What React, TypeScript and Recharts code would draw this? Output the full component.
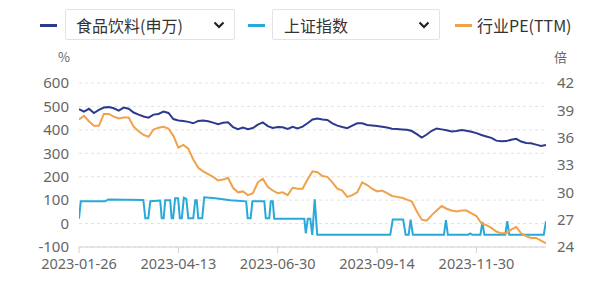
import { LineChart, Line, XAxis, YAxis, CartesianGrid } from 'recharts';

// trading-day index (every 2nd day) for the index and PE series
const days = [
  0, 2, 4, 6, 8, 10, 12, 14, 16, 18, 20, 22, 24, 26, 28, 30, 32, 34, 36, 38,
  40, 42, 44, 46, 48, 50, 52, 54, 56, 58, 60, 62, 64, 66, 68, 70, 72, 74, 76, 78,
  80, 82, 84, 86, 88, 90, 92, 94, 96, 98, 100, 102, 104, 106, 108, 110, 112, 114, 116, 118,
  120, 122, 124, 126, 128, 130, 132, 134, 136, 138, 140, 142, 144, 146, 148, 150, 152, 154, 156, 158,
  160, 162, 164, 166, 168, 170, 172, 174, 176, 178, 180, 182, 184, 186, 188,
];

const foodIndex = [
  488, 478, 490, 472, 485, 495, 497, 492, 482, 495, 490, 474, 465, 457, 452, 465, 468, 478, 472, 446,
  440, 438, 434, 428, 438, 440, 437, 431, 424, 430, 432, 412, 403, 410, 403, 408, 422, 432, 416, 408,
  412, 411, 404, 413, 406, 414, 428, 444, 448, 444, 442, 428, 418, 412, 407, 418, 428, 428, 421, 419,
  416, 413, 410, 405, 404, 402, 400, 395, 382, 367, 380, 396, 406, 402, 398, 393, 395, 399, 396, 392,
  386, 378, 372, 366, 354, 351, 352, 358, 362, 350, 344, 343, 337, 331, 336,
];

const industryPE = [
  38.0, 38.4, 37.8, 37.3, 37.3, 38.6, 38.6, 38.3, 38.1, 38.2, 38.2, 37.2, 36.7, 36.3, 36.1, 36.9, 37.1, 37.2, 37.0, 36.2,
  34.9, 35.2, 34.8, 33.6, 32.7, 32.3, 32.0, 31.7, 31.3, 31.4, 31.6, 30.5, 30.0, 30.1, 29.7, 29.9, 31.1, 31.5, 30.6, 30.2,
  29.9, 30.0, 29.7, 30.5, 30.4, 30.4, 31.4, 32.3, 32.2, 31.8, 31.7, 31.1, 30.4, 30.2, 29.5, 29.7, 30.0, 31.1, 30.8, 30.4,
  30.1, 30.2, 29.9, 29.6, 29.5, 29.4, 29.2, 29.0, 27.9, 27.0, 26.9, 27.5, 28.0, 28.5, 28.2, 28.0, 27.9, 28.0, 28.0, 27.7,
  27.4, 26.6, 26.4, 26.1, 25.7, 25.5, 25.5, 25.9, 26.2, 25.5, 25.2, 25.0, 25.0, 24.7, 24.4,
];

// 上证指数 series, read at its break points
const shDays = [
  0, 0.7, 10.5, 11.8, 25.9, 26.7, 27.9, 28.7, 32.7, 33.3, 34.1, 34.7, 36.7, 37.3, 37.9, 38.7,
  39.9, 40.6, 41.4, 42.2, 43.2, 44, 46, 46.8, 47.4, 48, 49.6, 50.4, 54.9, 60.9, 67.3, 67.9,
  69.1, 69.8, 74.6, 75.2, 76.6, 77.2, 78, 78.6, 90.7, 91.3, 92.1, 93.1, 93.9, 94.9, 95.9, 125.3,
  126.3, 130.5, 131.5, 132.7, 133.5, 134.4, 146.9, 147.7, 148.5, 156.7, 157.5, 158.3, 161.6, 162.4,
  163.2, 171.6, 172.4, 173.2, 187.1, 188,
];
const shValues = [
  21, 95, 95, 103, 101, 23, 23, 95, 98, 23, 23, 100, 100, 23, 23, 108,
  108, 23, 23, 110, 105, 23, 23, 100, 100, 23, 23, 112, 108, 100, 95, 23,
  23, 95, 95, 23, 23, 95, 95, 21, 21, -42, 21, 21, -48, 103, -48, -48,
  17, 17, -48, -48, 17, -48, -48, 15, -48, -48, -42, -48, -48, 7,
  -48, -48, 10, -48, -48, 10,
];

const tickDays = [0, 40, 80, 120, 160];
const tickLabels = ['2023-01-26', '2023-04-13', '2023-06-30', '2023-09-14', '2023-11-30'];
const leftTicks = [-100, 0, 100, 200, 300, 400, 500, 600];
const rightTicks = [24, 27, 30, 33, 36, 39, 42];

const NAVY = '#2c3a8e';
const CYAN = '#2aa9d9';
const ORANGE = '#f0a24a';

const rows = days.map((d, i) => ({ d, food: foodIndex[i], pe: industryPE[i] }));
const shRows = shDays.map((d, i) => ({ d, sh: shValues[i] }));

const tickStyle = { fill: '#666', fontSize: 15, fontFamily: 'Noto Sans, sans-serif' };
const xTickStyle = { ...tickStyle, fontSize: 14.5 };

function LegendBar() {
  const font = { fontFamily: '"Noto Sans CJK SC", sans-serif', fontSize: 16, color: '#333' };
  const box = {
    position: 'absolute' as const,
    top: 9,
    height: 31,
    border: '1px solid #e3e3e3',
    borderRadius: 2,
    background: '#fff',
    boxSizing: 'border-box' as const,
    display: 'flex',
    alignItems: 'center',
    ...font,
  };
  const swatch = (left: number, color: string) => (
    <div style={{ position: 'absolute', left, top: 24, width: 17, height: 3, background: color }} />
  );
  const chevron = (
    <svg width="12" height="8" viewBox="0 0 12 8" style={{ position: 'absolute', right: 9, top: 11 }}>
      <path d="M1.5 1.5 L6 6 L10.5 1.5" fill="none" stroke="#222" strokeWidth="2.2" />
    </svg>
  );
  const unit = { ...font, fontSize: 13, color: '#666', lineHeight: '16px' };
  return (
    <>
      {swatch(40, NAVY)}
      <div style={{ ...box, left: 65, width: 170, paddingLeft: 10 }}>
        食品饮料(申万)
        {chevron}
      </div>
      {swatch(248, CYAN)}
      <div style={{ ...box, left: 272, width: 168, paddingLeft: 11 }}>
        上证指数
        {chevron}
      </div>
      {swatch(455, ORANGE)}
      <div style={{ position: 'absolute', left: 477, top: 13, ...font, lineHeight: '24px' }}>行业PE(TTM)</div>
      <div style={{ position: 'absolute', left: 58, top: 49, ...unit }}>%</div>
      <div style={{ position: 'absolute', left: 554, top: 49, ...unit }}>倍</div>
    </>
  );
}

export default function App() {
  return (
    <div style={{ position: 'absolute', left: 0, top: 0, width: 600, height: 291, background: '#fff' }}>
      <LineChart
        width={600}
        height={291}
        data={rows}
        margin={{ top: 83, right: 0, bottom: 14, left: 0 }}
      >
        <CartesianGrid yAxisId="left" vertical={false} stroke="#e2e2e2" strokeDasharray="3 3" />
        <XAxis
          dataKey="d"
          type="number"
          domain={[0, 188]}
          ticks={tickDays}
          tickFormatter={(v: number) => tickLabels[tickDays.indexOf(v)] ?? ''}
          stroke="#d0d0d0"
          tickSize={6}
          tickMargin={6}
          height={30}
          tick={xTickStyle}
          interval={0}
          allowDataOverflow
        />
        <YAxis
          yAxisId="left"
          domain={[-100, 600]}
          ticks={leftTicks}
          width={79}
          axisLine={false}
          tickLine={false}
          tickSize={0}
          tickMargin={10}
          tick={tickStyle}
          interval={0}
        />
        <YAxis
          yAxisId="right"
          orientation="right"
          domain={[24, 42]}
          ticks={rightTicks}
          width={54}
          axisLine={false}
          tickLine={false}
          tickSize={0}
          tickMargin={11}
          tick={tickStyle}
          interval={0}
        />
        <Line
          yAxisId="left"
          data={shRows}
          dataKey="sh"
          stroke={CYAN}
          strokeWidth={2}
          dot={false}
          activeDot={false}
          isAnimationActive={false}
        />
        <Line
          yAxisId="left"
          dataKey="food"
          stroke={NAVY}
          strokeWidth={2}
          dot={false}
          activeDot={false}
          isAnimationActive={false}
        />
        <Line
          yAxisId="right"
          dataKey="pe"
          stroke={ORANGE}
          strokeWidth={2}
          dot={false}
          activeDot={false}
          isAnimationActive={false}
        />
      </LineChart>
      <LegendBar />
    </div>
  );
}
